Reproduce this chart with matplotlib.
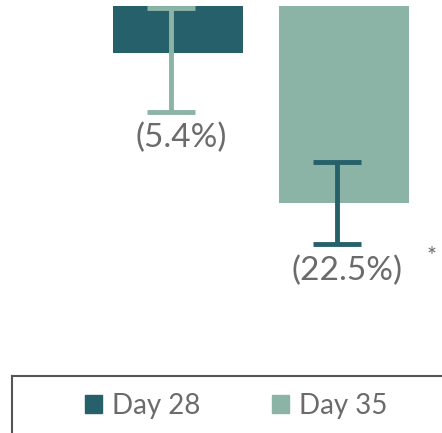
import matplotlib
matplotlib.use("Agg")
import matplotlib.pyplot as plt
from matplotlib.patches import Patch

# percent change (negative = reduction)
days = ["Day 28", "Day 35"]
change = [-5.4, -22.5]
err_lower = [6.7, 4.7]
err_upper = [5.2, 4.7]
labels = ["(5.4%)", "(22.5%)"]

dark = "#26606b"
light = "#8bb4a7"
grey = "#6b6b6b"
bar_colors = [dark, light]
err_colors = [light, dark]

plt.rcParams["font.family"] = ["Lato", "DejaVu Sans"]

W, H = 442, 433
fig = plt.figure(figsize=(W / 100, H / 100), dpi=100)

# main axes: value 0 sits at 6 px from top, bottom of axes at legend line
top_px, bot_px = 6, 376
px_per_pct = 8.76
ax = fig.add_axes([0, 1 - bot_px / H, 1, (bot_px - top_px) / H])
ax.set_xlim(-178 / 166, (W - 178) / 166)
ax.set_ylim(-(bot_px - top_px) / px_per_pct, 0)
ax.axis("off")

x = list(range(len(days)))
ax.bar(x, change, width=0.783, color=bar_colors, align="center")
for i in x:
    ax.errorbar(i - 0.045, change[i], yerr=[[err_lower[i]], [err_upper[i]]],
                fmt="none", ecolor=err_colors[i], elinewidth=3.5,
                capsize=17, capthick=3.5)
    ax.annotate(labels[i], xy=(i + 0.02, change[i] - err_lower[i]),
                xytext=(0, -8), textcoords="offset points",
                ha="center", va="top", fontsize=24, color=grey)

ax.text(1.53, -28.6, "*", ha="center", va="center", fontsize=17, color=grey)

# legend box (only top and left borders visible)
lax = fig.add_axes([12 / W, 0, 1, (H - bot_px) / H])
lax.set_xticks([])
lax.set_yticks([])
for side in ["right", "bottom"]:
    lax.spines[side].set_visible(False)
for side in ["top", "left"]:
    lax.spines[side].set_color("#555555")
    lax.spines[side].set_linewidth(1.5)
lax.patch.set_alpha(0)

handles = [Patch(color=c) for c in bar_colors]
fig.legend(handles, days, loc="center", bbox_to_anchor=(236 / W, 1 - 406 / H),
           ncol=2, frameon=False, fontsize=20, labelcolor=grey,
           handlelength=0.62, handleheight=0.62, handletextpad=0.35,
           columnspacing=2.6)

fig.savefig("out.png", dpi=100)
